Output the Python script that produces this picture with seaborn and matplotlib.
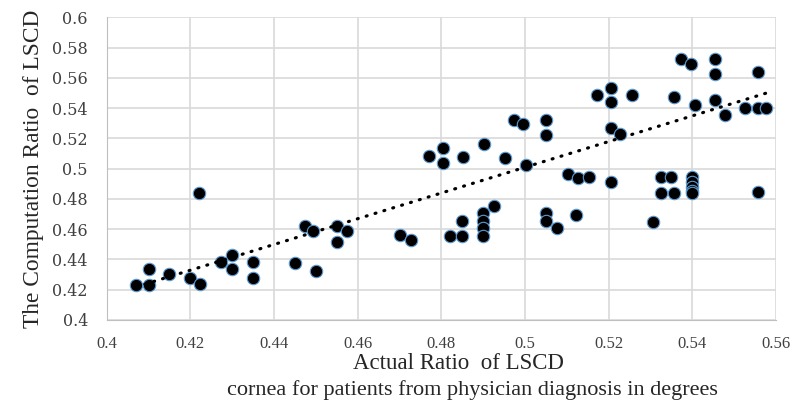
import numpy as np
import pandas as pd
import seaborn as sns
from matplotlib import pyplot as plt

# actual ratio (x) and computed ratio (y)
actual = [0.407, 0.410, 0.410, 0.415, 0.420, 0.4224, 0.422, 0.4274, 0.430, 0.430,
          0.435, 0.435, 0.445, 0.4474, 0.4494, 0.450, 0.455, 0.455, 0.4575, 0.470,
          0.4727, 0.482, 0.485, 0.485, 0.490, 0.490, 0.490, 0.490, 0.4927, 0.505,
          0.505, 0.5077, 0.5122, 0.5103, 0.5126, 0.5152, 0.5206, 0.5306, 0.5324, 0.5348,
          0.5324, 0.5356, 0.540, 0.540, 0.540, 0.540, 0.540, 0.5556,
          0.4804, 0.4804, 0.4771, 0.4851, 0.4903, 0.4953, 0.4973, 0.4996, 0.5003, 0.5051,
          0.5051, 0.5173, 0.5206, 0.5206, 0.5255, 0.5206, 0.5228, 0.5355, 0.5373, 0.5396,
          0.5406, 0.5455, 0.5455, 0.5455, 0.5478, 0.5525, 0.5556, 0.5576, 0.5556]
computed = [0.423, 0.4337, 0.423, 0.4304, 0.428, 0.424, 0.4838, 0.4385, 0.4431, 0.4337,
            0.4385, 0.428, 0.4376, 0.4624, 0.4591, 0.4327, 0.4624, 0.4517, 0.4591, 0.4561,
            0.4528, 0.4558, 0.4558, 0.4657, 0.4706, 0.4651, 0.4607, 0.4558, 0.4754, 0.4706,
            0.4657, 0.4607, 0.4697, 0.4966, 0.4935, 0.4944, 0.4913, 0.4647, 0.4944, 0.4944,
            0.4838, 0.4838, 0.4948, 0.4915, 0.4882, 0.4855, 0.4838, 0.4847,
            0.5139, 0.5036, 0.5085, 0.508, 0.5162, 0.5073, 0.5322, 0.5296, 0.5025, 0.5322,
            0.5223, 0.5487, 0.5535, 0.5439, 0.5487, 0.5267, 0.523, 0.5472, 0.5727, 0.569,
            0.5423, 0.5727, 0.5624, 0.5456, 0.5353, 0.54, 0.54, 0.54, 0.5641]

# trendline as drawn in the chart
trend_slope = 0.85
trend_intercept = 0.0759

xticks = [0.4, 0.42, 0.44, 0.46, 0.48, 0.5, 0.52, 0.54, 0.56]
yticks = [0.4, 0.42, 0.44, 0.46, 0.48, 0.5, 0.52, 0.54, 0.56, 0.58, 0.6]

df = pd.DataFrame({"actual": actual, "computed": computed})

sns.set_style("whitegrid", {"grid.color": "#d9d9d9", "axes.edgecolor": "#bfbfbf"})
plt.rcParams["font.family"] = ["Liberation Serif", "DejaVu Serif"]

fig = plt.figure(figsize=(8.07, 4.19), dpi=100)
ax = fig.add_axes([0.1322, 0.2363, 0.8294, 0.7224])

sns.scatterplot(data=df, x="actual", y="computed", ax=ax, s=80, color="black",
                edgecolor="#5b9bd5", linewidth=0.8, zorder=3)

xs = np.array([df["actual"].min(), df["actual"].max()])
ax.plot(xs, trend_slope * xs + trend_intercept, color="black",
        linestyle=(0, (0.3, 2.6)), linewidth=2.3, dash_capstyle="round", zorder=4)

ax.set_xlim(0.4, 0.56)
ax.set_ylim(0.4, 0.6)
ax.set_xticks(xticks)
ax.set_yticks(yticks)
ax.set_xticklabels([f"{t:g}" for t in xticks], fontsize=12, color="#404040")
ax.set_yticklabels([f"{t:g}" for t in yticks], fontsize=11.5, color="#404040",
                   family="DejaVu Serif")
ax.tick_params(axis="x", pad=8)
ax.tick_params(axis="y", pad=10)
for side in ["top", "right"]:
    ax.spines[side].set_visible(False)
ax.grid(True, linewidth=1.2)

ax.set_ylabel("The Computation Ratio  of LSCD", fontsize=16.8, labelpad=6)
ax.set_xlabel("")
ax.text(0.525, -0.145, "Actual Ratio  of LSCD", transform=ax.transAxes,
        fontsize=16.5, ha="center", va="center")
ax.text(0.547, -0.23, "cornea for patients from physician diagnosis in degrees",
        transform=ax.transAxes, fontsize=16, ha="center", va="center")

fig.savefig("out.png", dpi=100)
